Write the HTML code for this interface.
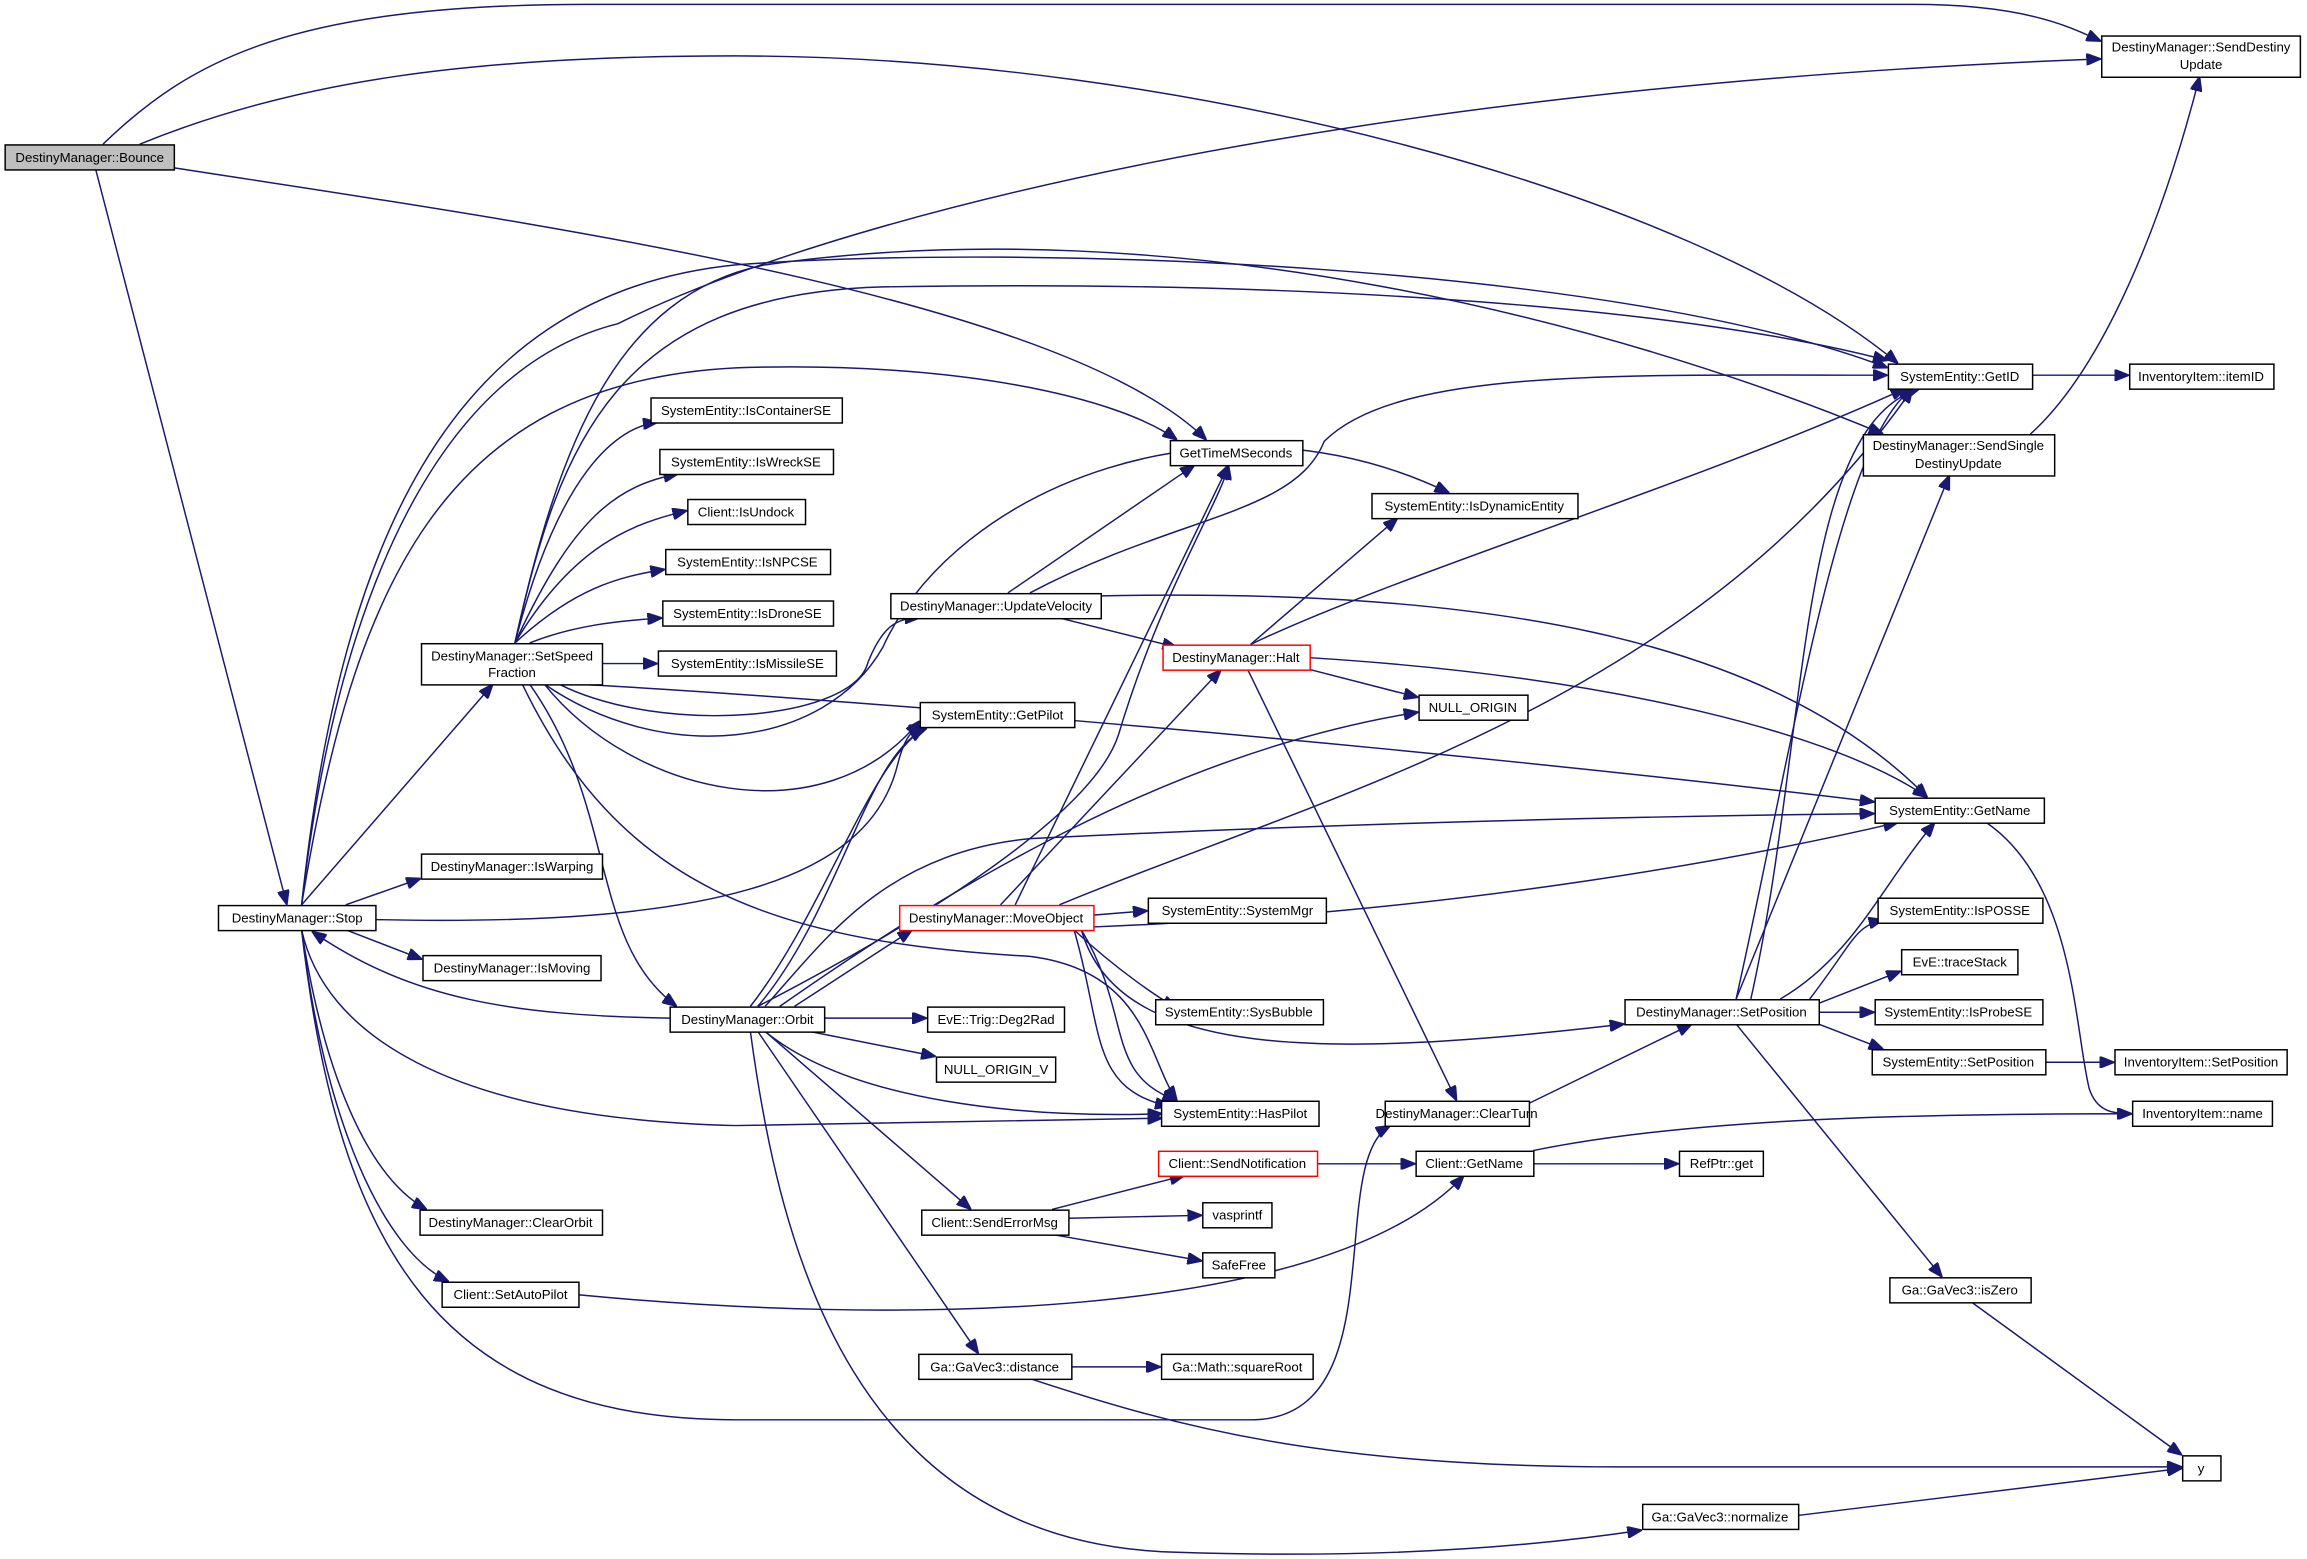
<!DOCTYPE html>
<html><head><meta charset="utf-8"><style>
html,body{margin:0;padding:0;background:#fff;}
svg{display:block;}
text{font-family:"Liberation Sans",sans-serif;font-size:9px;fill:#000;}
.n{fill:#fff;stroke:#000;stroke-width:1;}
.r{fill:#fff;stroke:#ff0000;stroke-width:1;}
.e{fill:none;stroke:#191970;stroke-width:1;}
</style></head><body>
<svg width="2307" height="1559" viewBox="0 0 1568 1059.6" xmlns="http://www.w3.org/2000/svg">
<defs><marker id="a" markerWidth="10" markerHeight="8" refX="10" refY="4" orient="auto" markerUnits="userSpaceOnUse"><path d="M0,0 L10,4 L0,8 z" fill="#191970" stroke="#191970"/></marker></defs>
<g class="e" marker-end="url(#a)">
<path d="M70,98 C130,40 200,3 400,3 L1300,3 C1380,3 1410,20 1428,28"/>
<path d="M95,98 C200,55 320,38 500,38 C800,38 1150,130 1290,247"/>
<path d="M118,114 C350,150 720,200 820,299"/>
<path d="M65,115 L195,615"/>
<path d="M205,615 C230,400 300,250 420,220 C560,150 900,60 1428,40"/>
<path d="M205,615 C230,380 300,200 500,180 C700,165 1100,180 1283,250"/>
<path d="M205,615 C240,400 300,260 500,250 C650,245 760,270 800,299"/>
<path d="M205,615 L335,465"/>
<path d="M235,615 L286,597"/>
<path d="M235,632 L287,652"/>
<path d="M255,625 C480,630 590,600 610,520 C615,500 620,496 628,493"/>
<path d="M205,632 C220,700 300,760 500,765 L790,760"/>
<path d="M205,632 C220,730 250,800 290,822"/>
<path d="M205,632 C220,760 260,850 305,871"/>
<path d="M205,632 C230,850 300,965 500,965 L850,965 C950,965 900,790 945,765"/>
<path d="M455,692 C350,690 280,680 212,633"/>
<path d="M350,437 C380,320 420,290 447,287"/>
<path d="M350,437 C390,350 420,330 461,322"/>
<path d="M350,437 C390,370 430,356 467,347"/>
<path d="M350,437 C390,400 420,392 452,387"/>
<path d="M360,437 C390,425 420,422 450,420"/>
<path d="M409,451 L447,451"/>
<path d="M350,437 C380,300 420,200 600,195 C900,190 1150,210 1283,245"/>
<path d="M350,437 C380,300 420,200 520,180 C800,140 1100,220 1280,295"/>
<path d="M370,465 C450,520 560,510 600,440 C650,330 830,260 985,335"/>
<path d="M380,465 C450,500 580,490 590,450 C600,425 610,420 625,420"/>
<path d="M370,465 C430,540 560,570 625,490"/>
<path d="M390,465 C500,470 900,500 1274,545"/>
<path d="M360,465 C420,550 400,640 460,684"/>
<path d="M355,465 C420,600 520,640 700,650 C780,660 780,720 800,748"/>
<path d="M685,403 L812,316"/>
<path d="M700,403 C800,350 880,350 900,300 C950,250 1100,255 1283,255"/>
<path d="M720,420 L800,440"/>
<path d="M748,405 C1000,400 1200,430 1310,542"/>
<path d="M850,438 L950,352"/>
<path d="M850,438 C950,390 1150,330 1295,264"/>
<path d="M890,455 L964,474"/>
<path d="M890,447 C1100,460 1250,500 1310,542"/>
<path d="M848,455 L990,748"/>
<path d="M510,684 C560,620 590,520 628,495"/>
<path d="M515,684 C570,620 590,510 630,495"/>
<path d="M515,684 C600,640 740,560 760,500 C790,400 830,340 835,316"/>
<path d="M530,684 C650,600 800,510 964,484"/>
<path d="M520,684 C560,640 600,580 700,570 C900,560 1100,555 1274,553"/>
<path d="M540,684 L620,632"/>
<path d="M560,692 L630,692"/>
<path d="M550,701 L636,718"/>
<path d="M520,701 C580,750 700,760 790,757"/>
<path d="M520,701 L660,822"/>
<path d="M515,701 L665,920"/>
<path d="M510,701 C530,850 580,1050 800,1055 C950,1060 1050,1050 1116,1040"/>
<path d="M680,615 L830,455"/>
<path d="M690,615 L835,316"/>
<path d="M720,615 C900,540 1150,480 1300,264"/>
<path d="M743,630 C1000,620 1200,580 1290,559"/>
<path d="M743,622 L780,619"/>
<path d="M730,632 C760,660 790,680 800,685"/>
<path d="M735,632 C770,690 750,730 800,748"/>
<path d="M730,632 C750,700 740,740 795,752"/>
<path d="M735,632 C760,720 900,720 1104,696"/>
<path d="M1180,679 C1220,500 1250,300 1300,264"/>
<path d="M1190,679 C1230,500 1220,290 1305,264"/>
<path d="M1180,679 L1325,323"/>
<path d="M1210,679 C1260,650 1280,600 1315,559"/>
<path d="M1230,679 C1260,640 1260,630 1280,625"/>
<path d="M1236,682 L1292,660"/>
<path d="M1236,688 L1274,688"/>
<path d="M1236,696 L1280,713"/>
<path d="M1180,696 L1320,868"/>
<path d="M1390,722 L1437,722"/>
<path d="M1350,559 C1410,600 1410,700 1420,740 C1425,755 1435,757 1449,757"/>
<path d="M1381,255 L1447,255"/>
<path d="M1380,295 C1430,250 1470,150 1495,52"/>
<path d="M1039,750 L1150,696"/>
<path d="M715,822 L805,799"/>
<path d="M726,828 L817,826"/>
<path d="M715,839 L817,857"/>
<path d="M895,791 L962,791"/>
<path d="M1042,791 L1141,791"/>
<path d="M1042,782 C1150,760 1300,757 1449,757"/>
<path d="M393,880 C600,900 900,900 995,799"/>
<path d="M728,929 L789,929"/>
<path d="M700,937 C800,970 900,997 1100,997 L1483,997"/>
<path d="M1340,885 L1483,989"/>
<path d="M1222,1030 L1483,998"/>
</g>
<g>
<rect x="3.5" y="98.5" width="115" height="17" fill="#bfbfbf" stroke="#000"/><text x="61" y="110" text-anchor="middle">DestinyManager::Bounce</text>
<rect class="n" x="1428.5" y="24.5" width="135" height="28"/><text x="1496" y="35" text-anchor="middle">DestinyManager::SendDestiny</text><text x="1496" y="47" text-anchor="middle">Update</text>
<rect class="n" x="148.5" y="615.5" width="107" height="17"/><text x="202" y="627" text-anchor="middle">DestinyManager::Stop</text>
<rect class="n" x="286.5" y="437.5" width="123" height="28"/><text x="348" y="449" text-anchor="middle">DestinyManager::SetSpeed</text><text x="348" y="460" text-anchor="middle">Fraction</text>
<rect class="n" x="795.5" y="299.5" width="90" height="17"/><text x="840" y="311" text-anchor="middle">GetTimeMSeconds</text>
<rect class="n" x="442.5" y="270.5" width="130" height="17"/><text x="507" y="282" text-anchor="middle">SystemEntity::IsContainerSE</text>
<rect class="n" x="448.5" y="305.5" width="118" height="17"/><text x="507" y="317" text-anchor="middle">SystemEntity::IsWreckSE</text>
<rect class="n" x="467.5" y="339.5" width="80" height="17"/><text x="507" y="351" text-anchor="middle">Client::IsUndock</text>
<rect class="n" x="452.5" y="373.5" width="112" height="17"/><text x="508" y="385" text-anchor="middle">SystemEntity::IsNPCSE</text>
<rect class="n" x="450.5" y="408.5" width="116" height="17"/><text x="508" y="420" text-anchor="middle">SystemEntity::IsDroneSE</text>
<rect class="n" x="447.5" y="442.5" width="121" height="17"/><text x="508" y="454" text-anchor="middle">SystemEntity::IsMissileSE</text>
<rect class="n" x="605.5" y="403.5" width="143" height="17"/><text x="677" y="415" text-anchor="middle">DestinyManager::UpdateVelocity</text>
<rect class="n" x="932.5" y="335.5" width="140" height="17"/><text x="1002" y="347" text-anchor="middle">SystemEntity::IsDynamicEntity</text>
<rect class="r" x="790.5" y="438.5" width="100" height="17"/><text x="840" y="450" text-anchor="middle">DestinyManager::Halt</text>
<rect class="n" x="964.5" y="472.5" width="74" height="17"/><text x="1001" y="484" text-anchor="middle">NULL_ORIGIN</text>
<rect class="n" x="625.5" y="477.5" width="105" height="17"/><text x="678" y="489" text-anchor="middle">SystemEntity::GetPilot</text>
<rect class="n" x="1283.5" y="247.5" width="98" height="17"/><text x="1332" y="259" text-anchor="middle">SystemEntity::GetID</text>
<rect class="n" x="1447.5" y="247.5" width="98" height="17"/><text x="1496" y="259" text-anchor="middle">InventoryItem::itemID</text>
<rect class="n" x="1266.5" y="295.5" width="130" height="28"/><text x="1331" y="306" text-anchor="middle">DestinyManager::SendSingle</text><text x="1331" y="318" text-anchor="middle">DestinyUpdate</text>
<rect class="n" x="1274.5" y="542.5" width="115" height="17"/><text x="1332" y="554" text-anchor="middle">SystemEntity::GetName</text>
<rect class="n" x="286.5" y="580.5" width="123" height="17"/><text x="348" y="592" text-anchor="middle">DestinyManager::IsWarping</text>
<rect class="n" x="287.5" y="649.5" width="121" height="17"/><text x="348" y="661" text-anchor="middle">DestinyManager::IsMoving</text>
<rect class="r" x="611.5" y="615.5" width="132" height="17"/><text x="677" y="627" text-anchor="middle">DestinyManager::MoveObject</text>
<rect class="n" x="780.5" y="610.5" width="121" height="17"/><text x="841" y="622" text-anchor="middle">SystemEntity::SystemMgr</text>
<rect class="n" x="785.5" y="679.5" width="114" height="17"/><text x="842" y="691" text-anchor="middle">SystemEntity::SysBubble</text>
<rect class="n" x="455.5" y="684.5" width="105" height="17"/><text x="508" y="696" text-anchor="middle">DestinyManager::Orbit</text>
<rect class="n" x="630.5" y="684.5" width="93" height="17"/><text x="677" y="696" text-anchor="middle">EvE::Trig::Deg2Rad</text>
<rect class="n" x="636.5" y="718.5" width="81" height="17"/><text x="677" y="730" text-anchor="middle">NULL_ORIGIN_V</text>
<rect class="n" x="789.5" y="748.5" width="107" height="17"/><text x="843" y="760" text-anchor="middle">SystemEntity::HasPilot</text>
<rect class="n" x="941.5" y="748.5" width="98" height="17"/><text x="990" y="760" text-anchor="middle">DestinyManager::ClearTurn</text>
<rect class="n" x="1104.5" y="679.5" width="132" height="17"/><text x="1170" y="691" text-anchor="middle">DestinyManager::SetPosition</text>
<rect class="n" x="1276.5" y="610.5" width="112" height="17"/><text x="1332" y="622" text-anchor="middle">SystemEntity::IsPOSSE</text>
<rect class="n" x="1292.5" y="645.5" width="79" height="17"/><text x="1332" y="657" text-anchor="middle">EvE::traceStack</text>
<rect class="n" x="1274.5" y="679.5" width="114" height="17"/><text x="1331" y="691" text-anchor="middle">SystemEntity::IsProbeSE</text>
<rect class="n" x="1272.5" y="713.5" width="118" height="17"/><text x="1331" y="725" text-anchor="middle">SystemEntity::SetPosition</text>
<rect class="n" x="1437.5" y="713.5" width="117" height="17"/><text x="1496" y="725" text-anchor="middle">InventoryItem::SetPosition</text>
<rect class="n" x="1449.5" y="748.5" width="95" height="17"/><text x="1497" y="760" text-anchor="middle">InventoryItem::name</text>
<rect class="n" x="285.5" y="822.5" width="124" height="17"/><text x="347" y="834" text-anchor="middle">DestinyManager::ClearOrbit</text>
<rect class="r" x="787.5" y="782.5" width="108" height="17"/><text x="841" y="794" text-anchor="middle">Client::SendNotification</text>
<rect class="n" x="962.5" y="782.5" width="80" height="17"/><text x="1002" y="794" text-anchor="middle">Client::GetName</text>
<rect class="n" x="1141.5" y="782.5" width="57" height="17"/><text x="1170" y="794" text-anchor="middle">RefPtr::get</text>
<rect class="n" x="626.5" y="822.5" width="100" height="17"/><text x="676" y="834" text-anchor="middle">Client::SendErrorMsg</text>
<rect class="n" x="817.5" y="817.5" width="47" height="17"/><text x="841" y="829" text-anchor="middle">vasprintf</text>
<rect class="n" x="817.5" y="851.5" width="49" height="17"/><text x="842" y="863" text-anchor="middle">SafeFree</text>
<rect class="n" x="300.5" y="871.5" width="93" height="17"/><text x="347" y="883" text-anchor="middle">Client::SetAutoPilot</text>
<rect class="n" x="1284.5" y="868.5" width="96" height="17"/><text x="1332" y="880" text-anchor="middle">Ga::GaVec3::isZero</text>
<rect class="n" x="624.5" y="920.5" width="104" height="17"/><text x="676" y="932" text-anchor="middle">Ga::GaVec3::distance</text>
<rect class="n" x="789.5" y="920.5" width="103" height="17"/><text x="841" y="932" text-anchor="middle">Ga::Math::squareRoot</text>
<rect class="n" x="1483.5" y="989.5" width="26" height="17"/><text x="1496" y="1001" text-anchor="middle">y</text>
<rect class="n" x="1116.5" y="1022.5" width="106" height="17"/><text x="1169" y="1034" text-anchor="middle">Ga::GaVec3::normalize</text>
</g>
</svg>
</body></html>
